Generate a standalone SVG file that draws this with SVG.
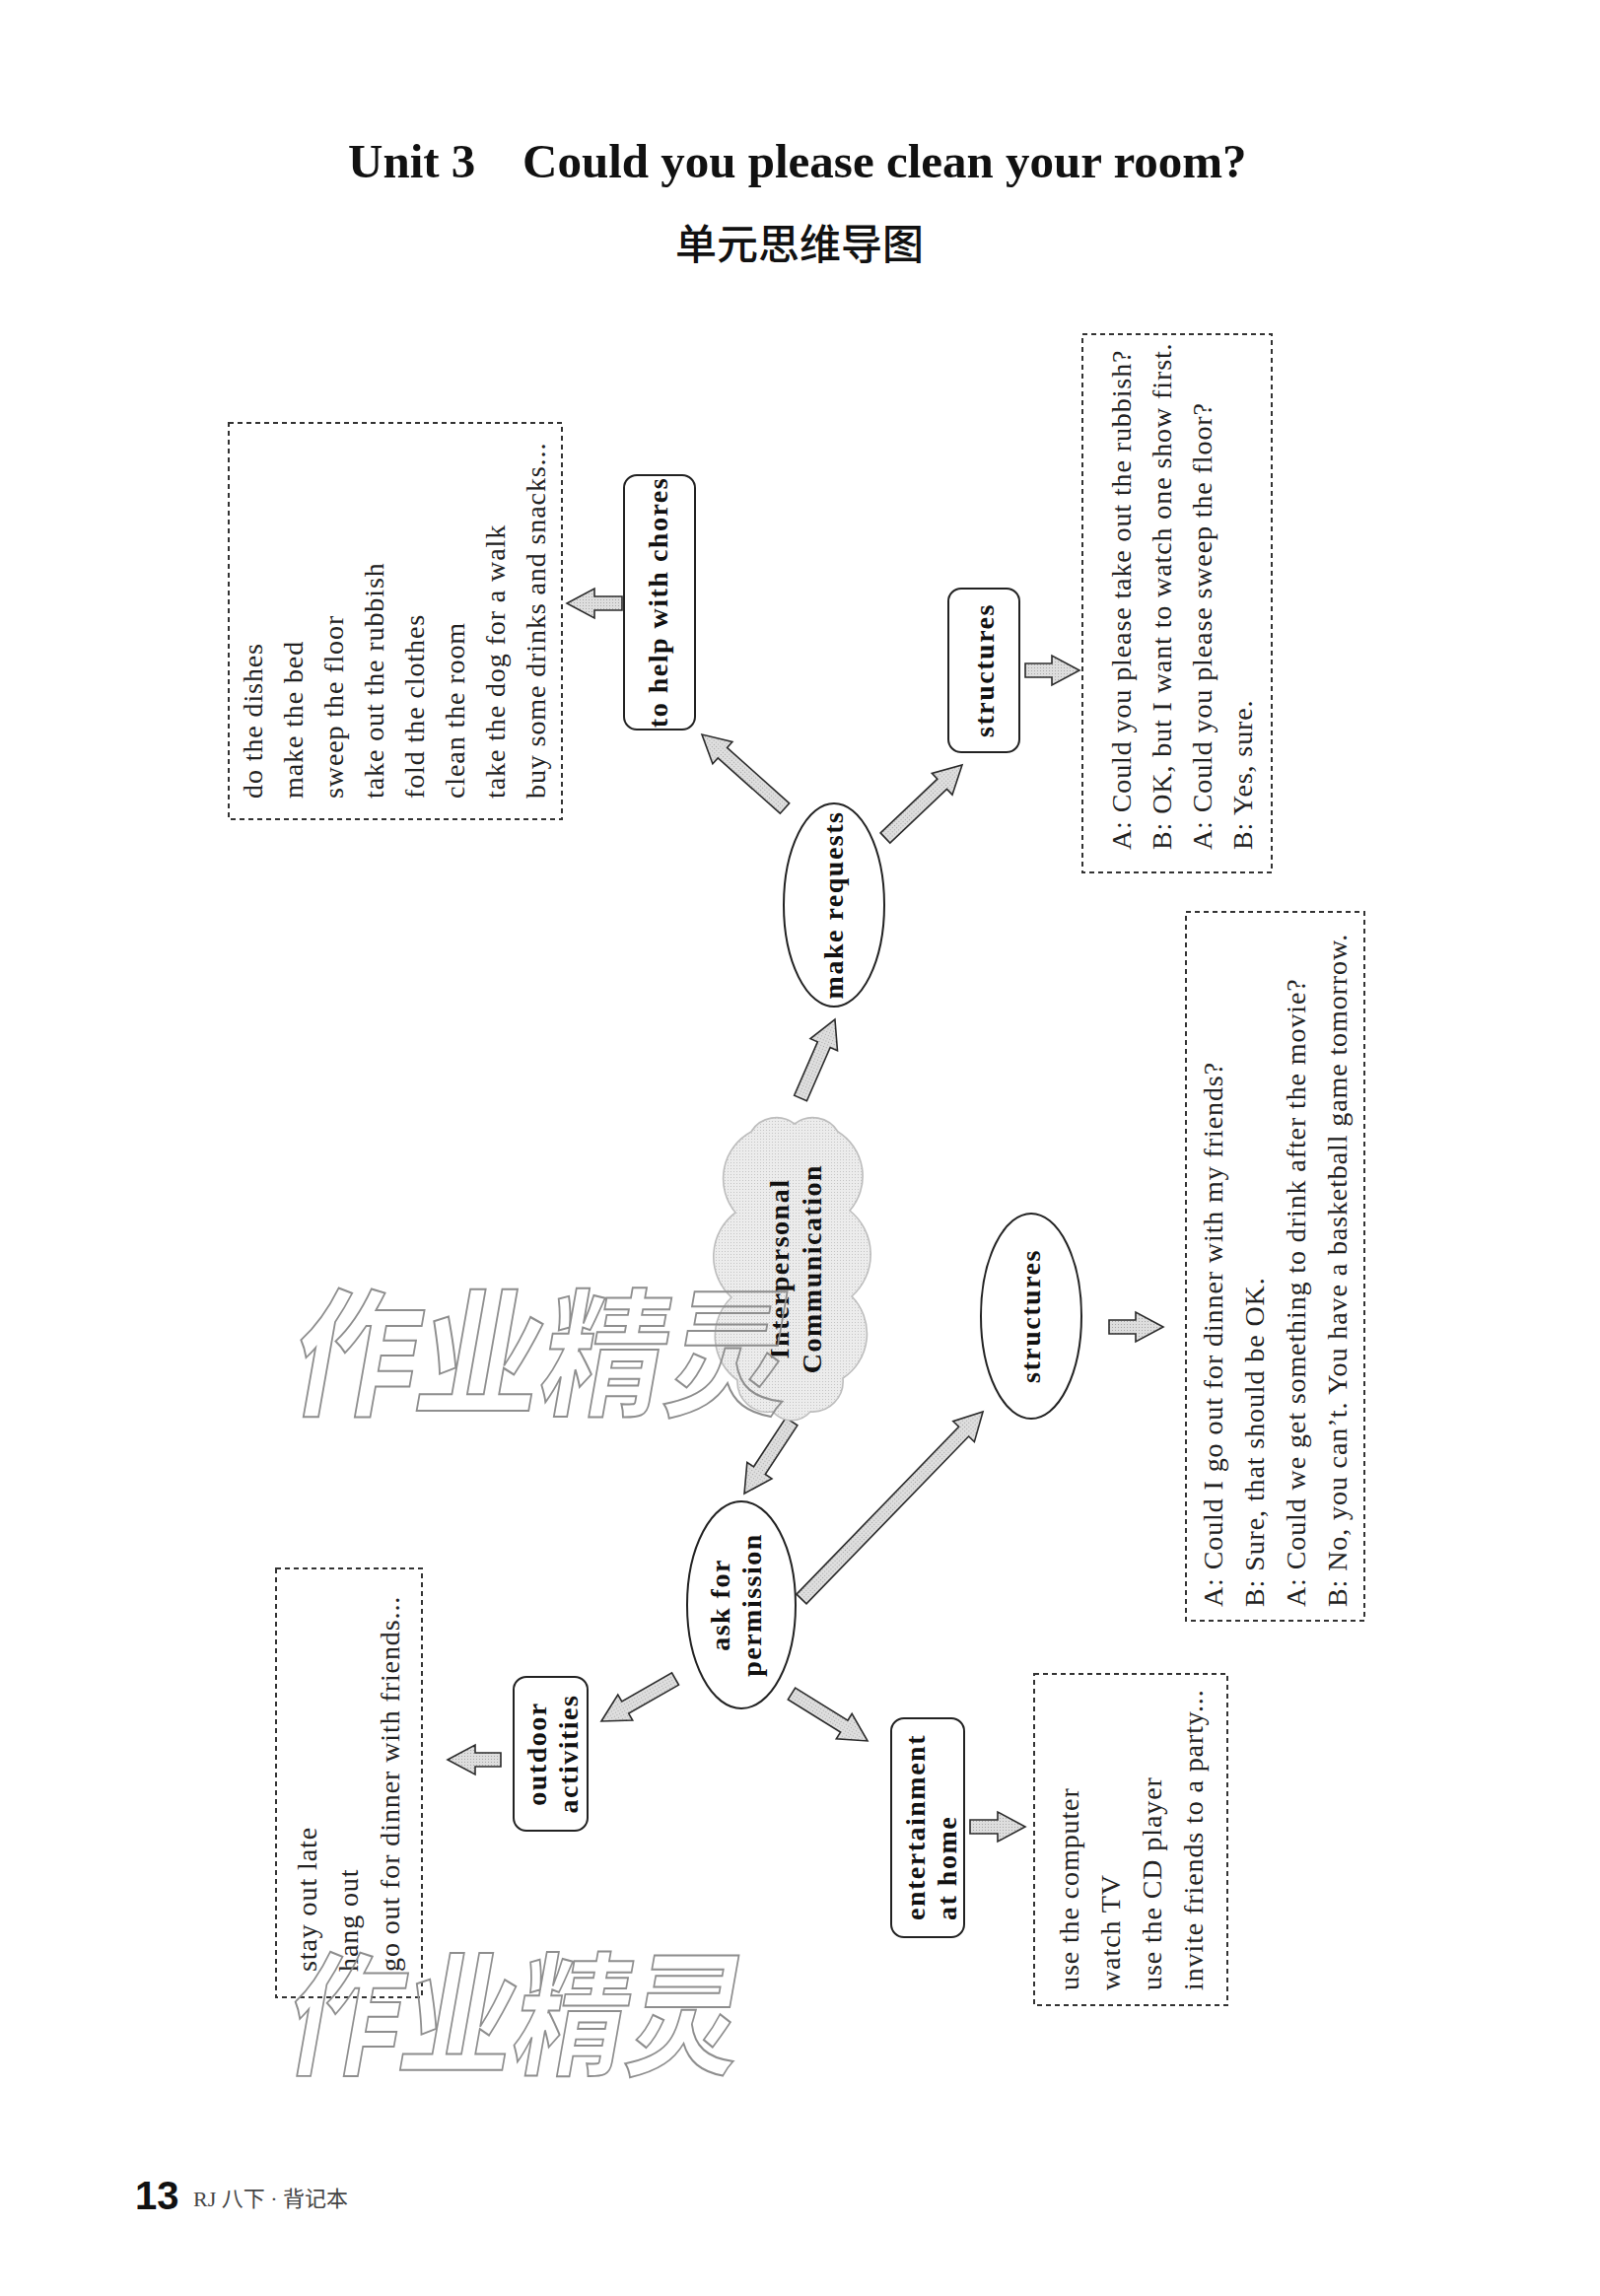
<svg xmlns="http://www.w3.org/2000/svg" width="1623" height="2329" viewBox="0 0 1623 2329">
<defs>
<pattern id="dots" width="3" height="3" patternUnits="userSpaceOnUse">
<rect width="3" height="3" fill="#dedede"/>
<rect width="1" height="1" fill="#a8a8a8"/>
</pattern>
<pattern id="cdots" width="3" height="3" patternUnits="userSpaceOnUse">
<rect width="3" height="3" fill="#ececec"/>
<rect width="1" height="1" fill="#c4c4c4"/>
</pattern>
<style>
.t{font-family:"Liberation Serif","Times New Roman",serif;font-size:28px;letter-spacing:0.9px;fill:#222}
.b{font-family:"Liberation Serif","Times New Roman",serif;font-size:28px;font-weight:bold;letter-spacing:1.5px;fill:#111}
.dash{fill:none;stroke:#333;stroke-width:2;stroke-dasharray:5 4}
.box{fill:#fff;stroke:#222;stroke-width:2}
.arrow{fill:url(#dots);stroke:#2b2b2b;stroke-width:1.6;stroke-linejoin:miter}
.cloud{fill:url(#cdots);stroke:#bdbdbd;stroke-width:1.6}
.wm{font-family:"Noto Sans CJK SC",sans-serif;font-weight:700;fill:none;stroke:#8e8e8e;stroke-width:2}
</style>
</defs>
<rect width="1623" height="2329" fill="#fff"/>

<g id="title">
<text x="353" y="180" font-family="Liberation Serif,Times New Roman,serif" font-size="49" font-weight="bold" fill="#111">Unit 3<tspan x="530">Could you please clean your room?</tspan></text>
<text x="811" y="263" text-anchor="middle" font-family="Noto Sans CJK SC,sans-serif" font-size="42" font-weight="500" fill="#111">单元思维导图</text>
</g>

<g id="connectors">
<path class="arrow" transform="translate(631,612) rotate(180)" d="M0,-7 H28 V-15 L56,0 L28,15 V7 H0 Z"/>
<path class="arrow" transform="translate(1040,680)" d="M0,-7 H27 V-15 L55,0 L27,15 V7 H0 Z"/>
<path class="arrow" transform="translate(796,820) rotate(-138.24)" d="M0,-7 H84.6 V-15 L112.6,0 L84.6,15 V7 H0 Z"/>
<path class="arrow" transform="translate(898,850) rotate(-43.5)" d="M0,-7 H79.5 V-15 L107.5,0 L79.5,15 V7 H0 Z"/>
<path class="arrow" transform="translate(812,1114) rotate(-66.4)" d="M0,-7 H59.3 V-15 L87.3,0 L59.3,15 V7 H0 Z"/>
<path class="arrow" transform="translate(803,1442) rotate(123.3)" d="M0,-7 H59.4 V-15 L87.4,0 L59.4,15 V7 H0 Z"/>
<path class="arrow" transform="translate(813,1622) rotate(-45.9)" d="M0,-7 H236.5 V-15 L264.5,0 L236.5,15 V7 H0 Z"/>
<path class="arrow" transform="translate(1125,1346)" d="M0,-7 H27 V-15 L55,0 L27,15 V7 H0 Z"/>
<path class="arrow" transform="translate(685,1703) rotate(150.2)" d="M0,-7 H58.5 V-15 L86.5,0 L58.5,15 V7 H0 Z"/>
<path class="arrow" transform="translate(508,1785) rotate(180)" d="M0,-7 H26 V-15 L54,0 L26,15 V7 H0 Z"/>
<path class="arrow" transform="translate(803,1718) rotate(31.9)" d="M0,-7 H62.7 V-15 L90.7,0 L62.7,15 V7 H0 Z"/>
<path class="arrow" transform="translate(984,1853)" d="M0,-7 H28 V-15 L56,0 L28,15 V7 H0 Z"/>
</g>

<g id="chores-list">
<rect class="dash" x="232" y="429" width="338" height="402"/>
<text class="t" transform="translate(266,810) rotate(-90)"><tspan x="0" y="0">do the dishes</tspan><tspan x="0" y="41">make the bed</tspan><tspan x="0" y="82">sweep the floor</tspan><tspan x="0" y="123">take out the rubbish</tspan><tspan x="0" y="164">fold the clothes</tspan><tspan x="0" y="205">clean the room</tspan><tspan x="0" y="246">take the dog for a walk</tspan><tspan x="0" y="287">buy some drinks and snacks...</tspan></text>
</g>

<g id="help-with-chores">
<rect class="box" x="633" y="482" width="72" height="258" rx="13"/>
<text class="b" text-anchor="middle" transform="translate(677,611) rotate(-90)">to help with chores</text>
</g>

<g id="structures-requests">
<rect class="box" x="962" y="597" width="72" height="166" rx="13"/>
<text class="b" text-anchor="middle" transform="translate(1008,680) rotate(-90)">structures</text>
</g>

<g id="requests-examples">
<rect class="dash" x="1098" y="339" width="192" height="546"/>
<text class="t" transform="translate(1147,862) rotate(-90)"><tspan x="0" y="0">A: Could you please take out the rubbish?</tspan><tspan x="0" y="41">B: OK, but I want to watch one show first.</tspan><tspan x="0" y="82">A: Could you please sweep the floor?</tspan><tspan x="0" y="123">B: Yes, sure.</tspan></text>
</g>

<g id="make-requests">
<ellipse class="box" cx="846" cy="918" rx="51" ry="103"/>
<text class="b" text-anchor="middle" transform="translate(855,918) rotate(-90)">make requests</text>
</g>

<g id="interpersonal-communication">
<path class="cloud" d="M762,1148 A30 30 0 0 1 806,1140 A30 30 0 0 1 850,1148 A53 53 0 0 1 862,1228 A57 57 0 0 1 864,1315 A54 54 0 0 1 855,1398 A31 31 0 0 1 822,1432 A25 25 0 0 1 784,1432 A31 31 0 0 1 748,1400 A55 55 0 0 1 742,1316 A56 56 0 0 1 746,1230 A54 54 0 0 1 762,1148 Z"/>
<text class="b" text-anchor="middle" transform="translate(800,1287) rotate(-90)"><tspan x="0" y="0">Interpersonal</tspan><tspan x="0" y="33">Communication</tspan></text>
</g>

<g id="structures-permission">
<ellipse class="box" cx="1046" cy="1335" rx="51" ry="104"/>
<text class="b" text-anchor="middle" transform="translate(1055,1335) rotate(-90)">structures</text>
</g>

<g id="permission-examples">
<rect class="dash" x="1203" y="925" width="181" height="719"/>
<text class="t" transform="translate(1240,1630) rotate(-90)"><tspan x="0" y="0">A: Could I go out for dinner with my friends?</tspan><tspan x="0" y="42">B: Sure, that should be OK.</tspan><tspan x="0" y="84">A: Could we get something to drink after the movie?</tspan><tspan x="0" y="126">B: No, you can’t. You have a basketball game tomorrow.</tspan></text>
</g>

<g id="ask-for-permission">
<ellipse class="box" cx="752" cy="1628" rx="55" ry="105"/>
<text class="b" text-anchor="middle" transform="translate(740,1628) rotate(-90)"><tspan x="0" y="0">ask for</tspan><tspan x="0" y="32">permission</tspan></text>
</g>

<g id="outdoor-activities">
<rect class="box" x="521" y="1701" width="75" height="156" rx="13"/>
<text class="b" text-anchor="middle" transform="translate(554,1779) rotate(-90)"><tspan x="0" y="0">outdoor</tspan><tspan x="0" y="32">activities</tspan></text>
</g>

<g id="outdoor-list">
<rect class="dash" x="280" y="1591" width="148" height="435"/>
<text class="t" transform="translate(321,2000) rotate(-90)"><tspan x="0" y="0">stay out late</tspan><tspan x="0" y="42">hang out</tspan><tspan x="0" y="84">go out for dinner with friends...</tspan></text>
</g>

<g id="entertainment-at-home">
<rect class="box" x="904" y="1743" width="74" height="222" rx="13"/>
<text class="b" transform="translate(938,1948) rotate(-90)"><tspan x="0" y="0">entertainment</tspan><tspan x="0" y="32">at home</tspan></text>
</g>

<g id="home-list">
<rect class="dash" x="1049" y="1698" width="196" height="336"/>
<text class="t" transform="translate(1094,2019) rotate(-90)"><tspan x="0" y="0">use the computer</tspan><tspan x="0" y="42">watch TV</tspan><tspan x="0" y="84">use the CD player</tspan><tspan x="0" y="126">invite friends to a party...</tspan></text>
</g>

<g id="watermark">
<text class="wm" font-size="140" transform="translate(291,1425) skewX(-10)" textLength="505" lengthAdjust="spacingAndGlyphs">作业精灵</text>
<text class="wm" font-size="135" transform="translate(286,2094) skewX(-10)" textLength="460" lengthAdjust="spacingAndGlyphs">作业精灵</text>
</g>

<g id="footer">
<text x="137" y="2241" font-family="Liberation Sans,Arial,sans-serif" font-weight="bold" font-size="40" fill="#111">13</text>
<text x="196" y="2238" font-family="Liberation Serif,Noto Sans CJK SC,serif" font-size="22" fill="#444">RJ 八下 · 背记本</text>
</g>
</svg>
